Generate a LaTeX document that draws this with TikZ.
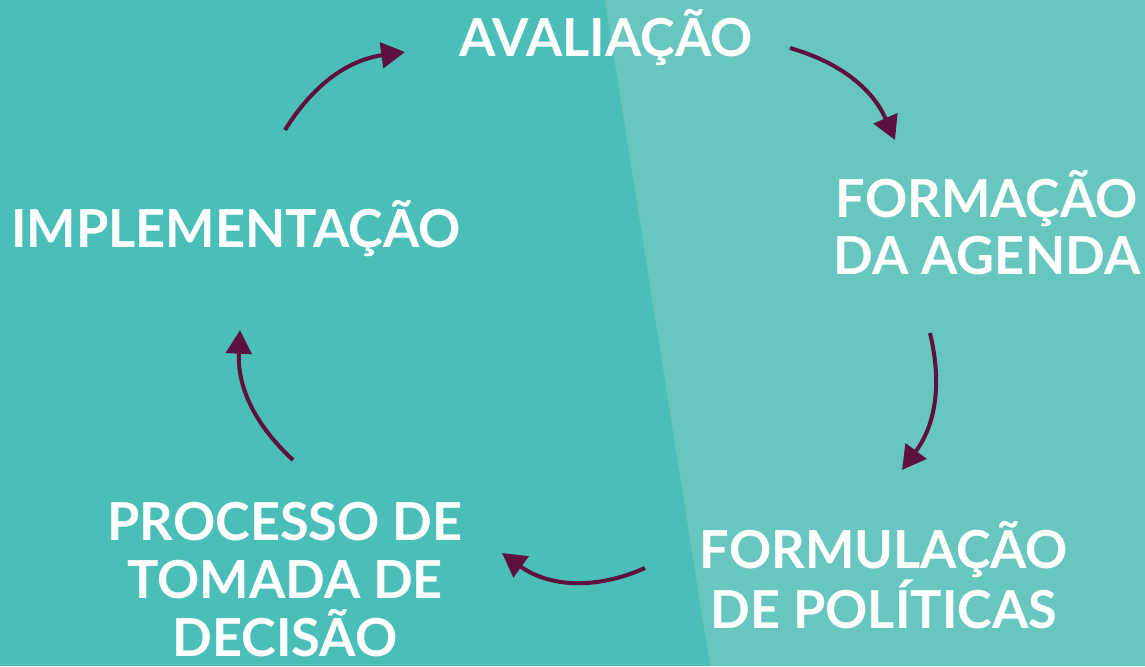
\documentclass[tikz,border=0pt]{standalone}
\usepackage{fontspec}
\setmainfont{Lato}
\usepackage{xcolor}
\usepackage{tikz}
\usetikzlibrary{arrows.meta, positioning, calc}

\definecolor{tealdark}{HTML}{4ABFB8}
\definecolor{teallight}{HTML}{67C7BE}
\definecolor{cycleplum}{HTML}{5E1040}

\tikzset{
    stage/.style={text=white, font=\bfseries\fontsize{29.8}{33}\selectfont,
        align=center, inner sep=0pt, anchor=base},
    cyclearrow/.style={draw=cycleplum, line width=2.3pt,
        -{Triangle[length=13.5pt, width=14.5pt]}}
}

\begin{document}
\begin{tikzpicture}[x=0.02cm,y=0.02cm]

        %=====================
        % Background
        %=====================
        \useasboundingbox (0,0) rectangle (1145,666);
        \fill[tealdark] (0,0) rectangle (1145,666);
        \fill[teallight] (605,666) -- (1145,666) -- (1145,0) -- (710,0) -- cycle;

        %=====================
        % Stages
        %=====================
        \node[stage] (aval) at (606,609) {AVALIAÇÃO};
        \node[stage] (agenda) at (987,391) {FORMAÇÃO\\DA AGENDA};
        \node[stage] (formul) at (884,38) {FORMULAÇÃO\\DE POLÍTICAS};
        \node[stage] (decisao) at (285,10) {PROCESSO DE\\TOMADA DE\\DECISÃO};
        \node[stage] (implem) at (236,418) {IMPLEMENTAÇÃO};

        %=====================
        % Arrow ends
        %=====================
        \coordinate (a1) at (285,536);
        \coordinate (b1) at (405,614);
        \coordinate (a2) at (790,618);
        \coordinate (b2) at (895,526);
        \coordinate (a3) at (930,333);
        \coordinate (b3) at (902,196);
        \coordinate (a4) at (645,98);
        \coordinate (b4) at (502,113);
        \coordinate (a5) at (293,206);
        \coordinate (b5) at (240,336);

        %=====================
        % Cycle arrows
        %=====================
        \draw[cyclearrow] (a1) to[bend left=25] (b1);
        \draw[cyclearrow] (a2) to[bend left=25] (b2);
        \draw[cyclearrow] (a3) to[bend left=25] (b3);
        \draw[cyclearrow] (a4) to[bend left=30] (b4);
        \draw[cyclearrow] (a5) to[bend left=25] (b5);

\end{tikzpicture}
\end{document}
